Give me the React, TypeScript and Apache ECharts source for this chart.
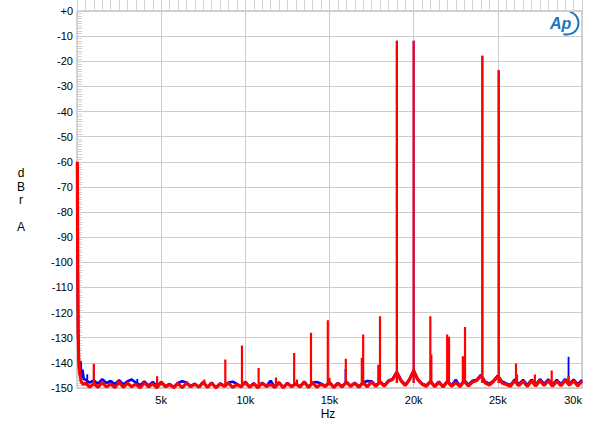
import React, { useEffect, useRef } from "react";
import * as echarts from "echarts";

// ---------- axis setup ----------
const X_MIN = 0;
const X_MAX = 30000;
const X_STEP = 5000;
const Y_MIN = -150;
const Y_MAX = 0;
const Y_STEP = 10;
const xTickLabels = ["", "5k", "10k", "15k", "20k", "25k", "30k"];
const yTickLabels = ["-150", "-140", "-130", "-120", "-110", "-100", "-90", "-80", "-70", "-60", "-50", "-40", "-30", "-20", "-10", "+0"];

// ---------- low-frequency roll-off [Hz, dBr] ----------
const redLowFreq: [number, number][] = [
  [20, -60], [35, -90], [50, -112], [70, -128], [100, -138], [150, -143.5], [250, -147.5], [380, -148.6],
];
const blueLowFreq: [number, number][] = [
  [20, -62], [40, -100], [70, -130], [120, -142], [170, -144.5], [210, -139.4], [260, -146], [330, -142.7], [400, -146.5],
];

// ---------- noise floor, every 250 Hz from 500 Hz to 30 kHz ----------
const FLOOR_START_HZ = 500;
const FLOOR_STEP_HZ = 250;
const redFloor = [
  -148.0, -149.6,
  -148.3, -149.7, -147.8, -149.6,
  -148.4, -149.8, -147.7, -149.7,
  -148.1, -149.5, -148.5, -149.9,
  -147.9, -149.6, -148.3, -149.9,
  -147.8, -149.5, -148.6, -149.8,
  -148.2, -149.9, -148.0, -149.5,
  -148.5, -149.7, -147.7, -149.8,
  -148.1, -149.9, -148.4, -149.4,
  -148.0, -149.8, -148.6, -149.6,
  -147.7, -149.7, -148.3, -149.9,
  -148.1, -149.4, -148.5, -149.8,
  -147.9, -149.9, -148.2, -149.5,
  -148.4, -149.6, -147.6, -149.8,
  -148.0, -149.7, -148.5, -149.4,
  -147.8, -149.8, -148.2, -149.6,
  -147.7, -149.4, -148.1, -149.7,
  -147.9, -149.5, -147.5, -149.4,
  -147.6, -149.3, -147.3, -146.6,
  -143.8, -147.2, -149.0, -146.7,
  -143.2, -146.8, -148.5, -149.3,
  -147.5, -149.5, -147.7, -149.6,
  -147.4, -149.3, -147.8, -149.5,
  -147.3, -149.2, -147.6, -147.0,
  -145.0, -148.0, -148.8, -147.3,
  -145.4, -148.0, -148.6, -149.3,
  -147.1, -149.1, -147.3, -149.4,
  -147.2, -149.2, -147.0, -149.0,
  -147.1, -149.3, -147.3, -149.1,
  -146.9, -148.9, -147.2, -149.2,
  -147.3,
];
const blueFloor = [
  -146.6, -147.9,
  -147.0, -148.3, -146.5, -148.0,
  -147.2, -148.5, -146.9, -148.6,
  -147.3, -146.6, -147.9, -148.9,
  -147.4, -149.0, -147.6, -149.2,
  -147.6, -149.3, -148.4, -149.6,
  -148.0, -147.3, -147.8, -149.3,
  -148.3, -149.5, -147.5, -149.6,
  -147.9, -149.8, -148.2, -149.1,
  -147.8, -147.5, -148.4, -149.4,
  -147.5, -149.5, -148.1, -149.7,
  -147.9, -149.2, -147.1, -149.6,
  -147.7, -149.7, -148.0, -149.3,
  -148.2, -149.4, -147.4, -149.6,
  -147.8, -147.6, -148.3, -149.2,
  -147.6, -149.6, -148.0, -149.4,
  -147.5, -149.1, -147.9, -149.5,
  -147.7, -147.2, -147.3, -149.1,
  -147.4, -149.0, -147.1, -146.4,
  -143.6, -146.9, -148.8, -146.5,
  -143.0, -146.5, -148.3, -149.0,
  -147.3, -149.2, -147.5, -149.4,
  -147.2, -149.0, -146.7, -149.3,
  -146.9, -148.7, -147.1, -146.7,
  -144.8, -147.5, -148.3, -147.0,
  -145.1, -147.4, -148.2, -148.8,
  -146.6, -148.5, -146.8, -148.8,
  -146.7, -148.6, -146.5, -148.4,
  -146.6, -148.7, -146.8, -148.5,
  -146.5, -148.3, -146.7, -148.6,
  -146.8,
];

// ---------- spectral lines [Hz, dBr] ----------
const redSpikes: [number, number][] = [
  [1000, -140.4], [2430, -146.9], [4760, -145.3], [6540, -147.5], [7570, -146.6],
  [8810, -138.7], [9800, -133.1], [10790, -142.0], [11820, -145.8], [12900, -136.1],
  [13070, -146.6], [13900, -128.0], [14900, -123.0], [15000, -146.0], [15970, -138.4],
  [16920, -138.0], [17000, -128.7], [17900, -140.7], [18000, -121.5], [19000, -11.8],
  [20000, -11.8], [20990, -121.5], [21050, -136.7], [21990, -128.7], [22100, -129.6],
  [22920, -137.4], [23050, -125.7], [24080, -17.8], [25050, -23.6], [26080, -140.3],
  [26140, -144.6], [27200, -144.6], [28200, -143.0], [29200, -145.0],
];
const blueSpikes: [number, number][] = [
  [610, -144.5], [1000, -141.0], [3580, -146.4], [15950, -142.4], [19000, -11.8],
  [20000, -11.8], [24080, -17.8], [25050, -23.6], [29200, -137.6],
];

// floor trace: roll-off followed by the 250 Hz floor values
function buildFloor(low: [number, number][], floor: number[]): [number, number][] {
  const pts: [number, number][] = low.map((p) => [p[0], p[1]] as [number, number]);
  floor.forEach((v, i) => pts.push([FLOOR_START_HZ + i * FLOOR_STEP_HZ, v]));
  return pts;
}

// spike trace: vertical segments rising from the floor, separated by gaps
function buildSpikes(floor: number[], spikes: [number, number][]): (number[] | string)[] {
  const pts: (number[] | string)[] = [];
  spikes.forEach(([f, v]) => {
    const idx = Math.min(floor.length - 1, Math.max(0, Math.round((f - FLOOR_START_HZ) / FLOOR_STEP_HZ)));
    const base = Math.min(floor[idx], -148);
    pts.push([f, base], [f, v], "-");
  });
  return pts;
}

const FONT = "'Liberation Sans', Arial, Helvetica, sans-serif";
const LOGO_BLUE = "#1a74bd";
const RED = "#ff0000";
const BLUE = "#0000ff";

export default function App() {
  const ref = useRef<HTMLDivElement>(null);
  useEffect(() => {
    if (!ref.current) return;
    const chart = echarts.init(ref.current, undefined, { renderer: "svg" });
    const lineBase = { type: "line", showSymbol: false, symbol: "none", clip: true, connectNulls: false };
    chart.setOption({
      animation: false,
      backgroundColor: "#ffffff",
      grid: {
        left: 77,
        right: 18,
        top: 11,
        bottom: 47,
        show: true,
        borderColor: "#a8a8a8",
        borderWidth: 1,
        backgroundColor: "transparent",
      },
      xAxis: {
        type: "value",
        min: X_MIN,
        max: X_MAX,
        interval: X_STEP,
        axisLine: { show: false },
        axisTick: { show: true, inside: true, length: 12, lineStyle: { color: "#d2d2d2" } },
        minorTick: { show: true, splitNumber: 10, length: 12, lineStyle: { color: "#d2d2d2" } },
        splitLine: { show: true, lineStyle: { color: "#cccccc", width: 1 } },
        axisLabel: {
          color: "#000",
          fontSize: 11,
          fontFamily: FONT,
          margin: 6,
          alignMaxLabel: "right",
          showMinLabel: false,
          formatter: (v: number) => xTickLabels[Math.round(v / X_STEP)] ?? "",
        },
      },
      yAxis: {
        type: "value",
        min: Y_MIN,
        max: Y_MAX,
        interval: Y_STEP,
        axisLine: { show: false },
        axisTick: { show: false, inside: true },
        minorTick: { show: true, splitNumber: 10, length: 5, lineStyle: { color: "#d2d2d2" } },
        splitLine: { show: true, lineStyle: { color: "#cccccc", width: 1 } },
        axisLabel: {
          color: "#000",
          fontSize: 11,
          fontFamily: FONT,
          margin: 4,
          formatter: (v: number) => yTickLabels[Math.round((v - Y_MIN) / Y_STEP)] ?? "",
        },
      },
      series: [
        { ...lineBase, name: "Blue floor", data: buildFloor(blueLowFreq, blueFloor), lineStyle: { color: BLUE, width: 2.6 }, z: 2 },
        { ...lineBase, name: "Blue lines", data: buildSpikes(blueFloor, blueSpikes), lineStyle: { color: BLUE, width: 1.8 }, z: 2 },
        { ...lineBase, name: "Red floor", data: buildFloor(redLowFreq, redFloor), lineStyle: { color: RED, width: 3.2 }, z: 3 },
        { ...lineBase, name: "Red lines", data: buildSpikes(redFloor, redSpikes), lineStyle: { color: RED, width: 2.2 }, z: 3 },
      ],
      graphic: [
        {
          type: "text",
          x: 21,
          y: 166.5,
          style: {
            text: "d\nB\nr\n\nA",
            align: "center",
            verticalAlign: "top",
            lineHeight: 13.5,
            fontSize: 12,
            fontFamily: FONT,
            fill: "#000",
          },
        },
        {
          type: "text",
          x: 328,
          y: 414,
          style: {
            text: "Hz",
            align: "center",
            verticalAlign: "middle",
            fontSize: 12,
            fontFamily: FONT,
            fill: "#000",
          },
        },
        {
          type: "text",
          x: 550,
          y: 15,
          style: {
            text: "Ap",
            fontSize: 16,
            fontStyle: "italic",
            fontWeight: "bold",
            fontFamily: FONT,
            fill: LOGO_BLUE,
          },
        },
        {
          type: "arc",
          shape: { cx: 567, cy: 23, r: 11.5, startAngle: -Math.PI * 0.42, endAngle: Math.PI * 0.6 },
          style: { stroke: LOGO_BLUE, lineWidth: 2, fill: "none" },
        },
      ],
    });
    return () => chart.dispose();
  }, []);
  return (
    <div
      ref={ref}
      style={{ position: "fixed", left: 0, top: 0, width: 600, height: 435, background: "#fff" }}
    />
  );
}
